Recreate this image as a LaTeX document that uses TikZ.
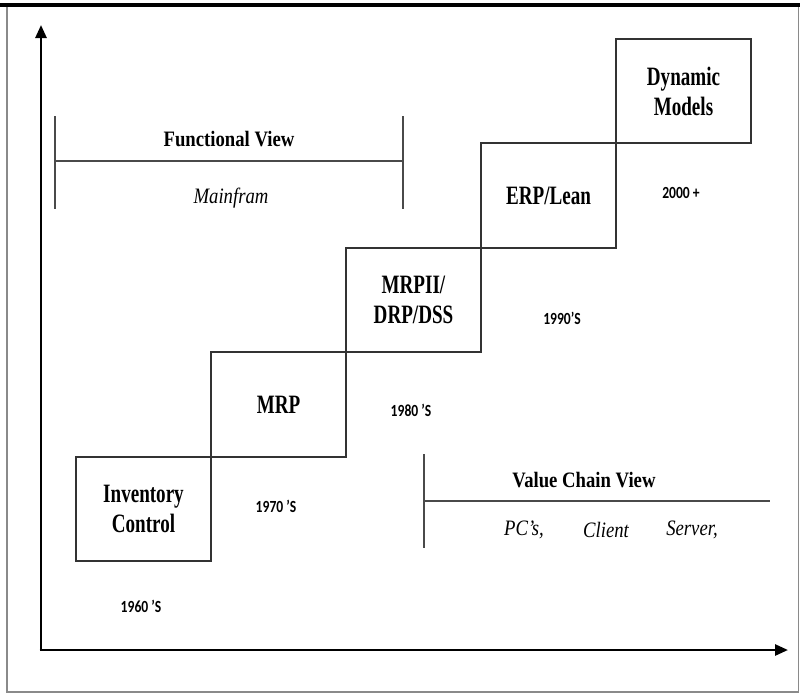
\documentclass[tikz,border=0pt]{standalone}
\usepackage{fontspec}
\setmainfont{Liberation Serif}
\newfontfamily\boxfont[FakeStretch=0.72]{Liberation Serif}
\newfontfamily\viewfont[FakeStretch=0.85]{Liberation Serif}
\newfontfamily\yearfont[FakeStretch=0.8]{Carlito}
\usetikzlibrary{arrows.meta}
\definecolor{boxline}{HTML}{333333}
\definecolor{brline}{HTML}{4A4A4A}
\definecolor{frameline}{HTML}{8A8A8A}
\tikzset{
  stagebox/.style={draw=boxline, line width=2pt, minimum width=135pt, minimum height=104.5pt,
    inner sep=0pt, outer sep=0pt, align=center,
    font=\boxfont\bfseries\fontsize{26.5}{30}\selectfont},
  yearlbl/.style={font=\yearfont\bfseries\fontsize{17}{20}\selectfont, inner sep=0pt},
  viewtitle/.style={font=\viewfont\bfseries\fontsize{22}{24}\selectfont, inner sep=0pt},
  viewsub/.style={font=\viewfont\itshape\fontsize{22}{24}\selectfont, inner sep=0pt},
  axis/.style={line width=2.6pt, -{Triangle[length=13pt,width=11pt]}},
  bracket/.style={draw=brline, line width=1.6pt}
}
\begin{document}
\begin{tikzpicture}[x=1pt,y=-1pt]
\useasboundingbox (0,0) rectangle (800,694);
% frame
\draw[frameline, line width=1.5pt] (7,6) rectangle (798.5,692);
\draw[black, line width=3.5pt] (0,5) -- (800,5);
% axes
\coordinate (origin) at (41,650);
\coordinate (ytip) at (41,25);
\coordinate (xtip) at (788,650);
\draw[axis] ([yshift=1.3pt]origin) -- (ytip);
\draw[axis] ([xshift=-1.3pt]origin) -- (xtip);
% stage boxes
\node[stagebox] (inv) at (143.5,509) {Inventory\\Control};
\node[stagebox] (mrp) at (278.5,404.5) {MRP};
\node[stagebox] (mrp2) at (413.5,300) {MRPII/\\DRP/DSS};
\node[stagebox] (erp) at (548.5,195.5) {ERP/Lean};
\node[stagebox] (dyn) at (683.5,91) {Dynamic\\Models};
% years
\node[yearlbl] (y60) at (141,606) {1960 ’S};
\node[yearlbl] (y70) at (276,506) {1970 ’S};
\node[yearlbl] (y80) at (411,410) {1980 ’S};
\node[yearlbl] (y90) at (562,318) {1990’S};
\node[yearlbl] (y00) at (681,193) {2000 +};
% functional view bracket
\coordinate (fl1) at (55,116);
\coordinate (fl2) at (55,209);
\coordinate (fr1) at (403,116);
\coordinate (fr2) at (403,209);
\coordinate (fm1) at (55,161);
\coordinate (fm2) at (403,161);
\draw[bracket] (fl1) -- (fl2);
\draw[bracket] (fr1) -- (fr2);
\draw[bracket] (fm1) -- (fm2);
\node[viewtitle] (fv) at (229,139) {Functional View};
\node[viewsub] (mf) at (231,198) {Mainfram};
% value chain view bracket
\coordinate (vl1) at (424,454);
\coordinate (vl2) at (424,548);
\coordinate (vm1) at (424,501);
\coordinate (vm2) at (770,501);
\draw[bracket] (vl1) -- (vl2);
\draw[bracket] (vm1) -- (vm2);
\node[viewtitle] (vcv) at (584,480) {Value Chain View};
\node[viewsub] (pcs) at (524,530) {PC’s,};
\node[viewsub] (cli) at (606,530) {Client};
\node[viewsub] (srv) at (692,530) {Server,};
\end{tikzpicture}
\end{document}
